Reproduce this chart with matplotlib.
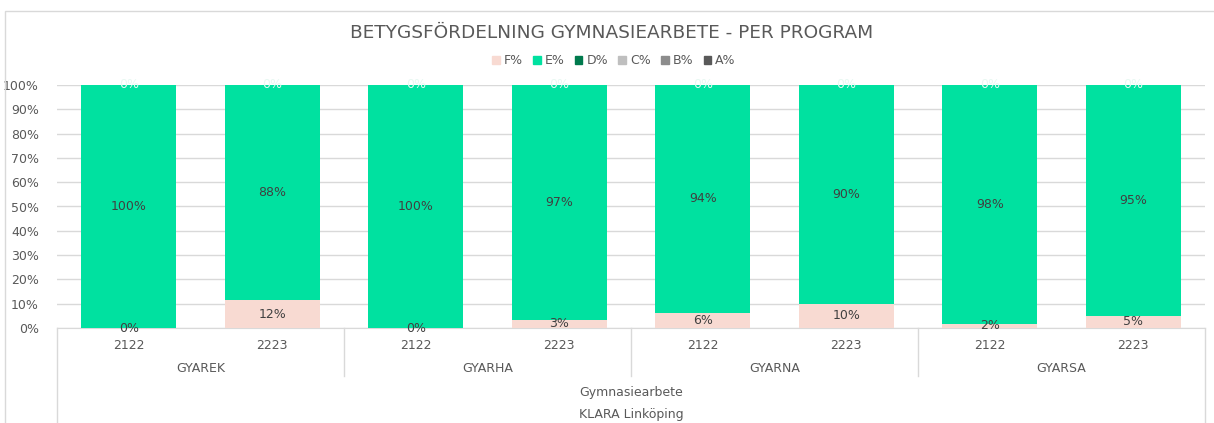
import matplotlib
matplotlib.use("Agg")
from matplotlib import pyplot as plt
from matplotlib.patches import Rectangle
from matplotlib.lines import Line2D
import numpy as np

# data
programs = ["GYAREK", "GYARHA", "GYARNA", "GYARSA"]
years = ["2122", "2223"]
f_pct = [0, 11.5, 0, 3.3, 6.3, 10, 1.8, 5]
e_pct = [100, 88.5, 100, 96.7, 93.7, 90, 98.2, 95]
f_labels = ["0%", "12%", "0%", "3%", "6%", "10%", "2%", "5%"]
e_labels = ["100%", "88%", "100%", "97%", "94%", "90%", "98%", "95%"]
series = ["F%", "E%", "D%", "C%", "B%", "A%"]
colors = ["#F8DAD2", "#00E1A0", "#007A4D", "#BFBFBF", "#8C8C8C", "#595959"]

W, H = 1214, 423
fig = plt.figure(figsize=(W / 100, H / 100), dpi=100)
txt = "#595959"

# plot area in pixels
x0, x1, ytop, ybot = 57, 1205, 85, 328
ax = fig.add_axes([x0 / W, (H - ybot) / H, (x1 - x0) / W, (ybot - ytop) / H])

x = np.arange(8)
bw = 0.66
ax.bar(x, f_pct, bw, color=colors[0], zorder=3)
ax.bar(x, e_pct, bw, bottom=f_pct, color=colors[1], zorder=3)

for i in x:
    ax.text(i, f_pct[i] / 2, f_labels[i], ha="center", va="center", fontsize=9, color="#404040", zorder=5)
    ax.text(i, f_pct[i] + e_pct[i] / 2, e_labels[i], ha="center", va="center", fontsize=9, color="#404040", zorder=5)
    ax.text(i, 100, "0%", ha="center", va="center", fontsize=9, color="#E8F8F2", zorder=5)

ax.set_xlim(-0.5, 7.5)
ax.set_ylim(0, 100)
ax.set_yticks(np.arange(0, 101, 10))
ax.set_yticklabels([f"{v}%" for v in range(0, 101, 10)], fontsize=9, color=txt)
ax.tick_params(axis="y", length=0, pad=13)
ax.tick_params(axis="x", length=0, labelbottom=False)
ax.grid(axis="y", color="#D9D9D9", linewidth=1, zorder=0)
for s in ["top", "right", "left"]:
    ax.spines[s].set_visible(False)
ax.spines["bottom"].set_color("#D9D9D9")

# category axis levels
ph = ybot - ytop
tr = ax.get_xaxis_transform()
for i in x:
    ax.text(i, -(345 - ybot) / ph, years[i % 2], transform=tr, ha="center", va="center",
            fontsize=9, color=txt, clip_on=False)
for g, p in enumerate(programs):
    ax.text(2 * g + 0.5, -(368 - ybot) / ph, p, transform=tr, ha="center", va="center",
            fontsize=9, color=txt, clip_on=False)
ax.text(3.5, -(392 - ybot) / ph, "Gymnasiearbete", transform=tr, ha="center", va="center",
        fontsize=9, color=txt, clip_on=False)
ax.text(3.5, -(414 - ybot) / ph, "KLARA Linköping", transform=tr, ha="center", va="center",
        fontsize=9, color=txt, clip_on=False)
for b in [1.5, 3.5, 5.5]:
    ax.add_line(Line2D([b, b], [0, -(376 - ybot) / ph], transform=tr, color="#D9D9D9",
                       linewidth=1, clip_on=False))
for b in [-0.5, 7.5]:
    ax.add_line(Line2D([b, b], [0, -(H - ybot) / ph], transform=tr, color="#D9D9D9",
                       linewidth=1, clip_on=False))

# chart frame
fig.add_artist(Rectangle((5 / W, -0.1), 1.2, (H - 11) / H + 0.1, transform=fig.transFigure,
                         fill=False, edgecolor="#D9D9D9", linewidth=1))

fig.text(612 / W, 1 - 33 / H, "BETYGSFÖRDELNING GYMNASIEARBETE - PER PROGRAM",
         ha="center", va="center", fontsize=13.3, color=txt)

handles = [Rectangle((0, 0), 1, 1, color=c) for c in colors]
fig.legend(handles, series, loc="center", bbox_to_anchor=(614 / W, 1 - 61 / H), ncol=6,
           frameon=False, fontsize=9, handlelength=0.6, handleheight=0.6,
           handletextpad=0.35, columnspacing=0.8, labelcolor=txt)

fig.savefig("out.png", dpi=100)
